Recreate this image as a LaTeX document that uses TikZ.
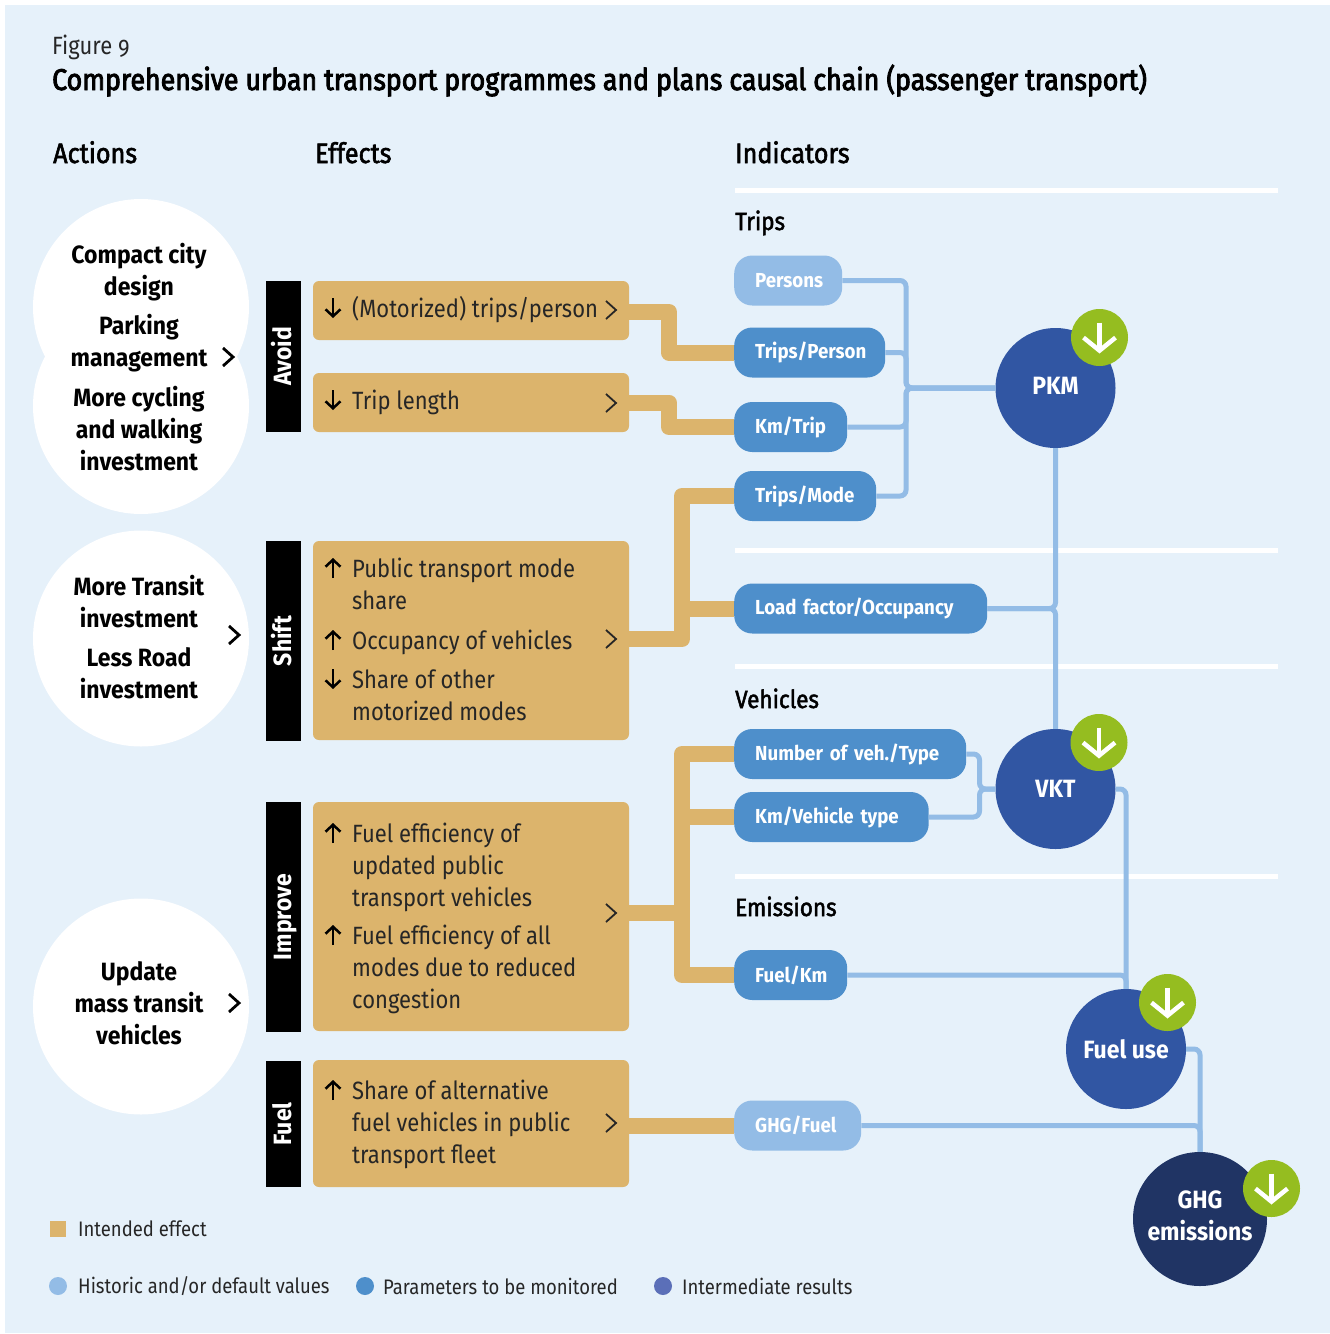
\documentclass[tikz,border=0pt]{standalone}
\usepackage{fontspec}
\setmainfont[Numbers=OldStyle,FakeStretch=0.88,BoldFeatures={FakeStretch=0.92}]{Fira Sans}
\newfontfamily\headfont[FakeBold=2,FakeStretch=0.9]{Fira Sans}
\newfontfamily\titlefont[FakeBold=3,FakeStretch=0.89]{Fira Sans}
\usetikzlibrary{arrows.meta}
\hyphenpenalty=10000
\exhyphenpenalty=10000
\definecolor{pagebg}{HTML}{E6F1FA}
\definecolor{tanbox}{HTML}{DCB46C}
\definecolor{lightind}{HTML}{93BCE6}
\definecolor{midind}{HTML}{4E8FCB}
\definecolor{darkind}{HTML}{3156A3}
\definecolor{navyind}{HTML}{203464}
\definecolor{greenmark}{HTML}{95BD20}
\definecolor{legendind}{HTML}{5B6FB8}
\definecolor{inktext}{HTML}{262626}
\tikzset{
	actioncircle/.style={circle, fill=white, minimum size=216pt, inner sep=0pt},
	actiontext/.style={align=center, inner sep=0pt, font=\fontsize{25}{32}\selectfont\bfseries, text=black},
	barbox/.style={fill=black, rotate=90, minimum height=35pt, inner sep=0pt, text height=18pt, text depth=2pt, text=white, font=\fontsize{25}{30}\selectfont\bfseries},
	effectbox/.style={fill=tanbox, rounded corners=6pt, minimum width=316pt, inner sep=0pt},
	effecttext/.style={anchor=west, align=left, inner sep=0pt, text=inktext, font=\fontsize{25}{32}\selectfont},
	headtext/.style={anchor=base west, inner sep=0pt, text=black, font=\fontsize{28}{32}\selectfont\headfont},
	subtext/.style={anchor=base west, inner sep=0pt, text=black, font=\fontsize{25}{30}\selectfont\headfont},
	legendtext/.style={anchor=west, inner sep=0pt, text=inktext, font=\fontsize{21}{26}\selectfont},
	indbox/.style={anchor=west, rounded corners=18pt, minimum height=50pt, inner xsep=21pt, inner ysep=0pt, align=left, text=white, font=\fontsize{20.3}{24}\selectfont\bfseries},
	lightbox/.style={indbox, fill=lightind},
	midbox/.style={indbox, fill=midind},
	resultcircle/.style={circle, fill=darkind, minimum size=120pt, inner sep=0pt, align=center, text=white, font=\fontsize{25}{32}\selectfont\bfseries},
	markcircle/.style={circle, fill=greenmark, minimum size=57pt, inner sep=0pt},
	markarrow/.style={draw=white, line width=4.5pt, -{Straight Barb[length=13pt,width=32pt]}},
	effectarrow/.style={draw=black, line width=2.5pt, -{Straight Barb[length=7pt,width=15pt]}},
	chevron/.style={draw=inktext, line width=1.8pt, line join=miter},
	actionchevron/.style={draw=black, line width=2.8pt, line join=miter},
	tanlink/.style={draw=tanbox, line width=16pt, line join=round},
	bluelink/.style={draw=lightind, line width=5pt, rounded corners=6pt},
	divider/.style={draw=white, line width=5pt},
}
\begin{document}
\begin{tikzpicture}[x=1pt,y=-1pt]
	\useasboundingbox (0,0) rectangle (1330,1334);
	\fill[white] (0,0) rectangle (1330,1334);
	\fill[pagebg] (5,5) rectangle (1330,1333);

	% titles
	\node[anchor=base west, inner sep=0pt, text=inktext, font=\fontsize{25}{30}\selectfont] (figno) at (52,54) {Figure 9};
	\node[anchor=base west, inner sep=0pt, text=black, font=\fontsize{30}{34}\selectfont\titlefont] (figtitle) at (52,90) {Comprehensive urban transport programmes and plans causal chain (passenger transport)};
	\node[headtext] (actionshead) at (53,163) {Actions};
	\node[headtext] (effectshead) at (315,163) {Effects};
	\node[headtext] (indicatorshead) at (735,163) {Indicators};
	\node[subtext] (tripshead) at (735,230) {Trips};
	\node[subtext] (vehicleshead) at (735,708) {Vehicles};
	\node[subtext] (emissionshead) at (735,916) {Emissions};

	% white rules
	\foreach \y in {190,550,666,876}
		\draw[divider] (735,\y) -- (1278,\y);

	% actions
	\node[actioncircle] (avoidtop) at (141,307) {};
	\node[actioncircle] (avoidlow) at (141,406) {};
	\node[actioncircle] (shiftact) at (141,638.5) {};
	\node[actioncircle] (improveact) at (141,1006.5) {};
	\node[actiontext] (compact) at (139,272) {Compact city\\design};
	\node[actiontext] (parking) at (139,343) {Parking\\management};
	\node[actiontext] (cycling) at (139,429) {More cycling\\and walking\\investment};
	\node[actiontext] (transit) at (139,602) {More Transit\\investment};
	\node[actiontext] (lessroad) at (139,673) {Less Road\\investment};
	\node[actiontext] (update) at (139,1003) {Update\\mass transit\\vehicles};

	% black bars
	\node[barbox, minimum width=151pt] (avoidbar) at (283.5,356.5) {Avoid};
	\node[barbox, minimum width=200pt] (shiftbar) at (283.5,641) {Shift};
	\node[barbox, minimum width=230pt] (improvebar) at (283.5,917) {Improve};
	\node[barbox, minimum width=126pt] (fuelbar) at (283.5,1124) {Fuel};

	% effects
	\node[effectbox, minimum height=59pt] (tripsbox) at (471,310.5) {};
	\node[effectbox, minimum height=59pt] (lengthbox) at (471,402.5) {};
	\node[effectbox, minimum height=199pt] (shiftbox) at (471,640.5) {};
	\node[effectbox, minimum height=229pt] (improvebox) at (471,916.5) {};
	\node[effectbox, minimum height=127pt] (fuelbox) at (471,1123.5) {};
	\node[effecttext] (motorized) at (352,310) {(Motorized) trips/person};
	\node[effecttext] (triplength) at (352,402) {Trip length};
	\node[effecttext] (modeshare) at (352,584) {Public transport mode\\share};
	\node[effecttext] (occupancy) at (352,642) {Occupancy of vehicles};
	\node[effecttext] (othermodes) at (352,695) {Share of other\\motorized modes};
	\node[effecttext] (updatedfuel) at (352,867) {Fuel efficiency of\\updated public\\transport vehicles};
	\node[effecttext] (allmodes) at (352,969.5) {Fuel efficiency of all\\modes due to reduced\\congestion};
	\node[effecttext] (altfuel) at (352,1124) {Share of alternative\\fuel vehicles in public\\transport fleet};
	\foreach \y/\d in {308/1,400/1,568/-1,640/-1,679/1,833/-1,935/-1,1090/-1}
		\draw[effectarrow] (333,\y-\d*10) -- (333,\y+\d*10);
	\foreach \x/\y in {611/310,611/403,611/639,611/913,611/1123}
		\draw[chevron] (\x-5,\y-9) -- (\x+5,\y) -- (\x-5,\y+9);
	\foreach \x/\y in {228/357,234/635,234/1003}
		\draw[actionchevron] (\x-5,\y-9) -- (\x+5,\y) -- (\x-5,\y+9);

	% indicators
	\node[lightbox, text width=66pt] (persons) at (734,280.5) {Persons};
	\node[midbox, text width=109pt] (tripsperson) at (734,352.5) {Trips/Person};
	\node[midbox, text width=71pt] (kmtrip) at (734,427) {Km/Trip};
	\node[midbox, text width=100pt] (tripsmode) at (734,496) {Trips/Mode};
	\node[midbox, text width=211pt] (loadfactor) at (734,608.5) {Load factor/Occupancy};
	\node[midbox, text width=190pt] (vehnumber) at (734,754) {Number of veh./Type};
	\node[midbox, text width=152.5pt] (kmvehicle) at (734,817) {Km/Vehicle type};
	\node[midbox, text width=71pt] (fuelkm) at (734,975) {Fuel/Km};
	\node[lightbox, text width=85pt] (ghgfuel) at (734,1125.5) {GHG/Fuel};

	% results
	\node[resultcircle] (pkm) at (1055.5,388) {\raisebox{4pt}{PKM}};
	\node[resultcircle] (vkt) at (1055.5,789) {VKT};
	\node[resultcircle] (fueluse) at (1126,1049) {\raisebox{1pt}{Fuel use}};
	\node[resultcircle, fill=navyind, minimum size=134pt] (ghg) at (1200,1219) {};
	\node[resultcircle, fill=none, minimum size=0pt] (ghgtext) at (1200,1216) {GHG\\emissions};
	\node[markcircle] (pkmdown) at (1099.5,337.5) {};
	\node[markcircle] (vktdown) at (1099,742.5) {};
	\node[markcircle] (fueldown) at (1167.5,1002.5) {};
	\node[markcircle] (ghgdown) at (1271.5,1188.5) {};
	\foreach \n in {pkmdown,vktdown,fueldown,ghgdown}
		\draw[markarrow] ([yshift=15pt]\n.center) -- ([yshift=-16pt]\n.center);

	% tan connectors
	\coordinate (tripsbend) at (669,332);
	\coordinate (lengthbend) at (669,415);
	\coordinate (shiftjoin) at (682,639);
	\coordinate (improvejoin) at (682,913);
	\draw[tanlink] ([yshift=-1.5pt]tripsbox.east) -| (tripsbend) |- (tripsperson.west);
	\draw[tanlink] (lengthbox.east) -| (lengthbend) |- (kmtrip.west);
	\draw[tanlink] (shiftbox.east |- shiftjoin) -- (shiftjoin) |- (tripsmode.west);
	\draw[tanlink] (shiftjoin) |- (loadfactor.west);
	\draw[tanlink] (improvebox.east |- improvejoin) -- (improvejoin) |- (vehnumber.west);
	\draw[tanlink] (improvejoin) |- (kmvehicle.west);
	\draw[tanlink] (improvejoin) |- (fuelkm.west);
	\draw[tanlink] (fuelbox.east |- ghgfuel.west) -- (ghgfuel.west);

	% blue connectors
	\coordinate (pkmjoin) at (906,388);
	\coordinate (vktjoin) at (979.5,789);
	\draw[bluelink] (persons.east) -| (pkmjoin) -- (pkm.west);
	\draw[bluelink] (tripsperson.east) -| (pkmjoin) -- (pkm.west);
	\draw[bluelink] (kmtrip.east) -| (pkmjoin) -- (pkm.west);
	\draw[bluelink] (tripsmode.east) -| (pkmjoin) -- (pkm.west);
	\draw[bluelink] (loadfactor.east) -| (pkm.south);
	\draw[bluelink] (loadfactor.east) -| (vkt.north);
	\draw[bluelink] (vehnumber.east) -| (vktjoin) -- (vkt.west);
	\draw[bluelink] (kmvehicle.east) -| (vktjoin) -- (vkt.west);
	\draw[bluelink] (vkt.east) -| (fueluse.north);
	\draw[bluelink] (fuelkm.east) -| (fueluse.north);
	\draw[bluelink] (fueluse.east) -| (ghg.north);
	\draw[bluelink] (ghgfuel.east) -| (ghg.north);

	% legend
	\node[fill=tanbox, minimum size=16pt, inner sep=0pt] (legendtan) at (58,1229) {};
	\node[circle, fill=lightind, minimum size=18pt, inner sep=0pt] (legendlight) at (58,1286) {};
	\node[circle, fill=midind, minimum size=18pt, inner sep=0pt] (legendmid) at (365,1286) {};
	\node[circle, fill=legendind, minimum size=18pt, inner sep=0pt] (legenddark) at (663,1286) {};
	\node[legendtext] (intended) at (78,1229) {Intended effect};
	\node[legendtext] (historic) at (78,1286) {Historic and/or default values};
	\node[legendtext] (parameters) at (383,1286) {Parameters to be monitored};
	\node[legendtext] (intermediate) at (682,1286) {Intermediate results};
\end{tikzpicture}
\end{document}
